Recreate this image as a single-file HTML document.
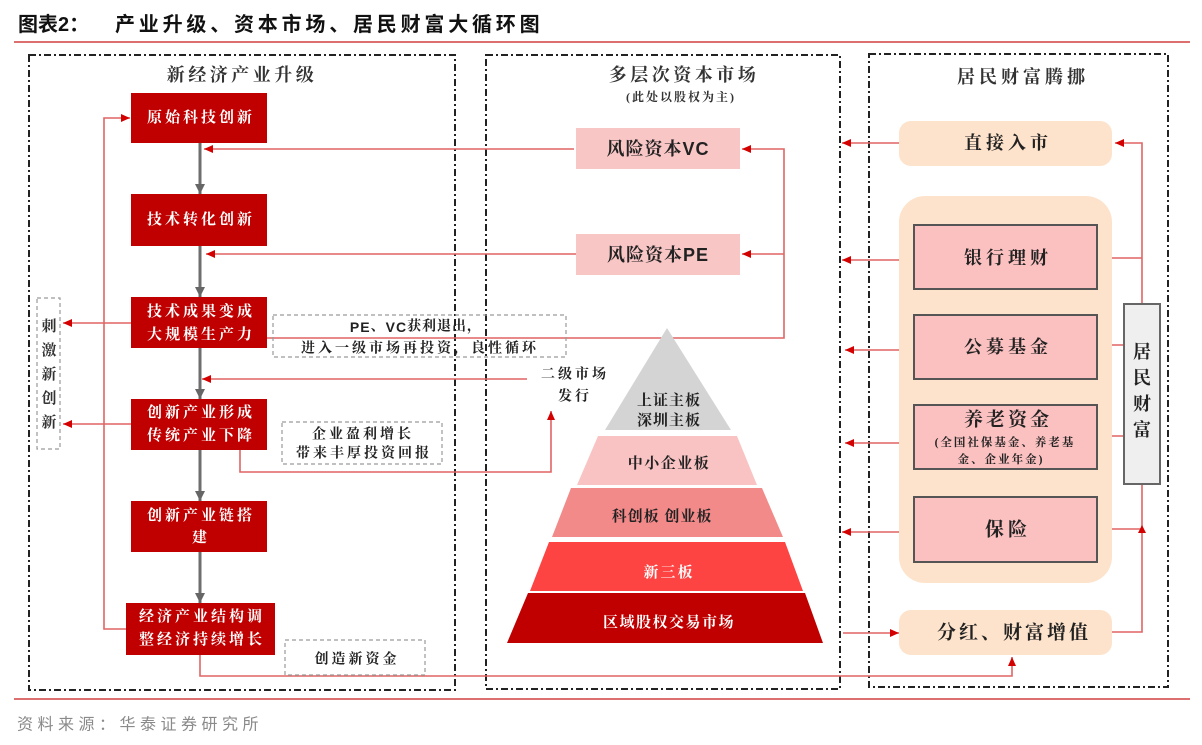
<!DOCTYPE html>
<html>
<head>
<meta charset="utf-8">
<style>
html,body{margin:0;padding:0;background:#fff;}
svg{display:block;}
.t{font-family:"Liberation Serif","Noto Serif CJK SC",serif;font-weight:700;}
.s{font-family:"Liberation Sans","Noto Sans CJK SC",sans-serif;}
.ls{font-family:"Liberation Sans","Noto Sans CJK SC",sans-serif;font-weight:700;}
</style>
</head>
<body>
<svg width="1202" height="745" viewBox="0 0 1202 745" xmlns="http://www.w3.org/2000/svg">
<defs>
<marker id="ra" markerUnits="userSpaceOnUse" markerWidth="9" markerHeight="8" refX="9" refY="4" orient="auto"><path d="M0,0 L9,4 L0,8 z" fill="#d40000"/></marker>
<marker id="ga" markerUnits="userSpaceOnUse" markerWidth="10" markerHeight="10" refX="10" refY="5" orient="auto"><path d="M0,0 L10,5 L0,10 z" fill="#666"/></marker>
</defs>

<!-- Title -->
<text x="18" y="25" dominant-baseline="central" class="s" font-size="20" font-weight="700" fill="#111">图表2：</text>
<text x="115" y="25" dominant-baseline="central" class="s" font-size="20" font-weight="700" fill="#111" letter-spacing="3.8">产业升级、资本市场、居民财富大循环图</text>
<line x1="14" y1="42" x2="1190" y2="42" stroke="#d04040" stroke-width="1.6"/>

<!-- Panels -->
<rect x="29" y="55" width="426" height="635" fill="none" stroke="#222" stroke-width="2" stroke-dasharray="7 3 2 3"/>
<rect x="486" y="55" width="354" height="634" fill="none" stroke="#222" stroke-width="2" stroke-dasharray="7 3 2 3"/>
<rect x="869" y="54" width="299" height="633" fill="none" stroke="#222" stroke-width="2" stroke-dasharray="7 3 2 3"/>

<text x="242" y="75" dominant-baseline="central" text-anchor="middle" class="t" font-size="18" fill="#333" letter-spacing="3.5">新经济产业升级</text>
<text x="684" y="75" dominant-baseline="central" text-anchor="middle" class="t" font-size="18" fill="#333" letter-spacing="3.5">多层次资本市场</text>
<text x="681" y="97" dominant-baseline="central" text-anchor="middle" class="t" font-size="12" fill="#333" letter-spacing="2">(此处以股权为主)</text>
<text x="1023" y="77" dominant-baseline="central" text-anchor="middle" class="t" font-size="18" fill="#333" letter-spacing="4">居民财富腾挪</text>

<!-- Red connector lines -->
<g fill="none" stroke="#e06464" stroke-width="1.6">
  <polyline points="126,629 104,629 104,118 130,118" marker-end="url(#ra)"/>
  <line x1="131" y1="323" x2="63" y2="323" marker-end="url(#ra)"/>
  <line x1="131" y1="424" x2="63" y2="424" marker-end="url(#ra)"/>
  <line x1="574" y1="149" x2="204" y2="149" marker-end="url(#ra)"/>
  <line x1="576" y1="254" x2="206" y2="254" marker-end="url(#ra)"/>
  <polyline points="267,338 784,338 784,149 742,149" marker-end="url(#ra)"/>
  <line x1="784" y1="254" x2="742" y2="254" marker-end="url(#ra)"/>
  <line x1="527" y1="379" x2="202" y2="379" marker-end="url(#ra)"/>
  <polyline points="240,450 240,472 551,472 551,411" marker-end="url(#ra)"/>
  <polyline points="200,655 200,676 1012,676 1012,657" marker-end="url(#ra)"/>
  <line x1="899" y1="143" x2="842" y2="143" marker-end="url(#ra)"/>
  <line x1="899" y1="260" x2="842" y2="260" marker-end="url(#ra)"/>
  <line x1="903" y1="350" x2="845" y2="350" marker-end="url(#ra)"/>
  <line x1="903" y1="443" x2="845" y2="443" marker-end="url(#ra)"/>
  <line x1="899" y1="532" x2="842" y2="532" marker-end="url(#ra)"/>
  <line x1="843" y1="633" x2="899" y2="633" marker-end="url(#ra)"/>
  <polyline points="1142,304 1142,143 1115,143" marker-end="url(#ra)"/>
  <line x1="1142" y1="258" x2="1099" y2="258" marker-end="url(#ra)"/>
  <line x1="1124" y1="345" x2="1100" y2="345" marker-end="url(#ra)"/>
  <line x1="1124" y1="436" x2="1100" y2="436" marker-end="url(#ra)"/>
  <polyline points="1112,632 1142,632 1142,484"/>
  <line x1="1142" y1="529" x2="1099" y2="529" marker-end="url(#ra)"/>
</g>
<path d="M1138,533 L1142,525 L1146,533 z" fill="#d40000"/>

<!-- Gray vertical arrows -->
<g stroke="#6e6e6e" stroke-width="3" fill="none">
  <line x1="200" y1="143" x2="200" y2="194" marker-end="url(#ga)"/>
  <line x1="200" y1="246" x2="200" y2="297" marker-end="url(#ga)"/>
  <line x1="200" y1="348" x2="200" y2="399" marker-end="url(#ga)"/>
  <line x1="200" y1="450" x2="200" y2="501" marker-end="url(#ga)"/>
  <line x1="200" y1="552" x2="200" y2="603" marker-end="url(#ga)"/>
</g>

<!-- Left column red boxes -->
<g fill="#c00000">
  <rect x="131" y="93" width="136" height="50"/>
  <rect x="131" y="194" width="136" height="52"/>
  <rect x="131" y="297" width="136" height="51"/>
  <rect x="131" y="399" width="136" height="51"/>
  <rect x="131" y="501" width="136" height="51"/>
  <rect x="126" y="603" width="149" height="52"/>
</g>
<g class="t" font-size="15" fill="#fff" text-anchor="middle" dominant-baseline="central" letter-spacing="3">
  <text x="201" y="118">原始科技创新</text>
  <text x="201" y="220">技术转化创新</text>
  <text x="201" y="312">技术成果变成</text>
  <text x="201" y="335">大规模生产力</text>
  <text x="201" y="413">创新产业形成</text>
  <text x="201" y="436">传统产业下降</text>
  <text x="201" y="516">创新产业链搭</text>
  <text x="201" y="538">建</text>
  <text x="202" y="617">经济产业结构调</text>
  <text x="202" y="640">整经济持续增长</text>
</g>

<!-- Dashed annotation boxes -->
<g fill="none" stroke="#9a9a9a" stroke-width="1.2" stroke-dasharray="4 3">
  <rect x="37" y="298" width="23" height="151"/>
  <rect x="273" y="315" width="293" height="42"/>
  <rect x="282" y="422" width="160" height="42"/>
  <rect x="285" y="640" width="140" height="35"/>
</g>
<g class="t" font-size="15" fill="#333" text-anchor="middle" dominant-baseline="central">
  <text x="49" y="327">刺</text>
  <text x="49" y="351">激</text>
  <text x="49" y="375">新</text>
  <text x="49" y="399">创</text>
  <text x="49" y="423">新</text>
</g>
<g class="t" font-size="14" fill="#222" text-anchor="middle" dominant-baseline="central">
  <text x="416" y="327" letter-spacing="1"><tspan class="ls">PE</tspan>、<tspan class="ls">VC</tspan>获利退出，</text>
  <text x="420" y="349" letter-spacing="3">进入一级市场再投资，良性循环</text>
  <text x="363" y="435" letter-spacing="3">企业盈利增长</text>
  <text x="364" y="454" letter-spacing="3">带来丰厚投资回报</text>
  <text x="357" y="660" letter-spacing="3">创造新资金</text>
  <text x="575" y="375" letter-spacing="3">二级市场</text>
  <text x="575" y="397" letter-spacing="3">发行</text>
</g>

<!-- VC / PE boxes -->
<rect x="576" y="128" width="164" height="41" fill="#f9c6c6"/>
<rect x="576" y="234" width="164" height="41" fill="#f9c6c6"/>
<text x="658" y="149" text-anchor="middle" dominant-baseline="central" class="t" font-size="18" fill="#222" letter-spacing="1">风险资本<tspan class="ls">VC</tspan></text>
<text x="658" y="255" text-anchor="middle" dominant-baseline="central" class="t" font-size="18" fill="#222" letter-spacing="1">风险资本<tspan class="ls">PE</tspan></text>

<!-- Pyramid -->
<polygon points="667,328 731,430 605,430" fill="#d4d4d4"/>
<polygon points="598,436 737,436 757,485 577,485" fill="#f9c3c3"/>
<polygon points="571,488 762,488 783,537 552,537" fill="#f28a8a"/>
<polygon points="549,542 785,542 803,591 530,591" fill="#fe4343"/>
<polygon points="528,593 805,593 823,643 507,643" fill="#c00000"/>
<g class="t" text-anchor="middle" dominant-baseline="central" font-size="15">
  <text x="669" y="401" fill="#222" letter-spacing="1">上证主板</text>
  <text x="669" y="421" fill="#222" letter-spacing="1">深圳主板</text>
  <text x="669" y="464" fill="#222" letter-spacing="1.5">中小企业板</text>
  <text x="662" y="517" fill="#222" letter-spacing="1">科创板  创业板</text>
  <text x="669" y="573" fill="#fff" letter-spacing="2">新三板</text>
  <text x="669" y="623" fill="#fff" letter-spacing="1.5">区域股权交易市场</text>
</g>

<!-- Right column -->
<rect x="899" y="121" width="213" height="45" rx="12" fill="#fde3cb"/>
<rect x="899" y="196" width="213" height="387" rx="26" fill="#fde3cb"/>
<rect x="899" y="610" width="213" height="45" rx="12" fill="#fde3cb"/>
<g fill="#fbc0c0" stroke="#555" stroke-width="2">
  <rect x="914" y="225" width="183" height="64"/>
  <rect x="914" y="315" width="183" height="64"/>
  <rect x="914" y="405" width="183" height="64"/>
  <rect x="914" y="497" width="183" height="65"/>
</g>
<rect x="1124" y="304" width="36" height="180" fill="#efefef" stroke="#666" stroke-width="2"/>
<g class="t" text-anchor="middle" dominant-baseline="central" fill="#222">
  <text x="1008" y="143" font-size="18" letter-spacing="4">直接入市</text>
  <text x="1008" y="258" font-size="18" letter-spacing="4">银行理财</text>
  <text x="1008" y="347" font-size="18" letter-spacing="4">公募基金</text>
  <text x="1008" y="420" font-size="19" letter-spacing="3">养老资金</text>
  <text x="1005" y="443" font-size="11.5" letter-spacing="2">(全国社保基金、养老基</text>
  <text x="1001" y="460" font-size="11.5" letter-spacing="2">金、企业年金)</text>
  <text x="1008" y="530" font-size="19" letter-spacing="4">保险</text>
  <text x="1014" y="633" font-size="19" letter-spacing="3">分红、财富增值</text>
  <text x="1142" y="352" font-size="18">居</text>
  <text x="1142" y="378" font-size="18">民</text>
  <text x="1142" y="404" font-size="18">财</text>
  <text x="1142" y="430" font-size="18">富</text>
</g>

<!-- Footer -->
<line x1="14" y1="699" x2="1190" y2="699" stroke="#d04040" stroke-width="1.6"/>
<text x="17" y="725" dominant-baseline="central" class="s" font-size="16" fill="#8a8a8a" letter-spacing="4.5">资料来源：华泰证券研究所</text>
</svg>
</body>
</html>
